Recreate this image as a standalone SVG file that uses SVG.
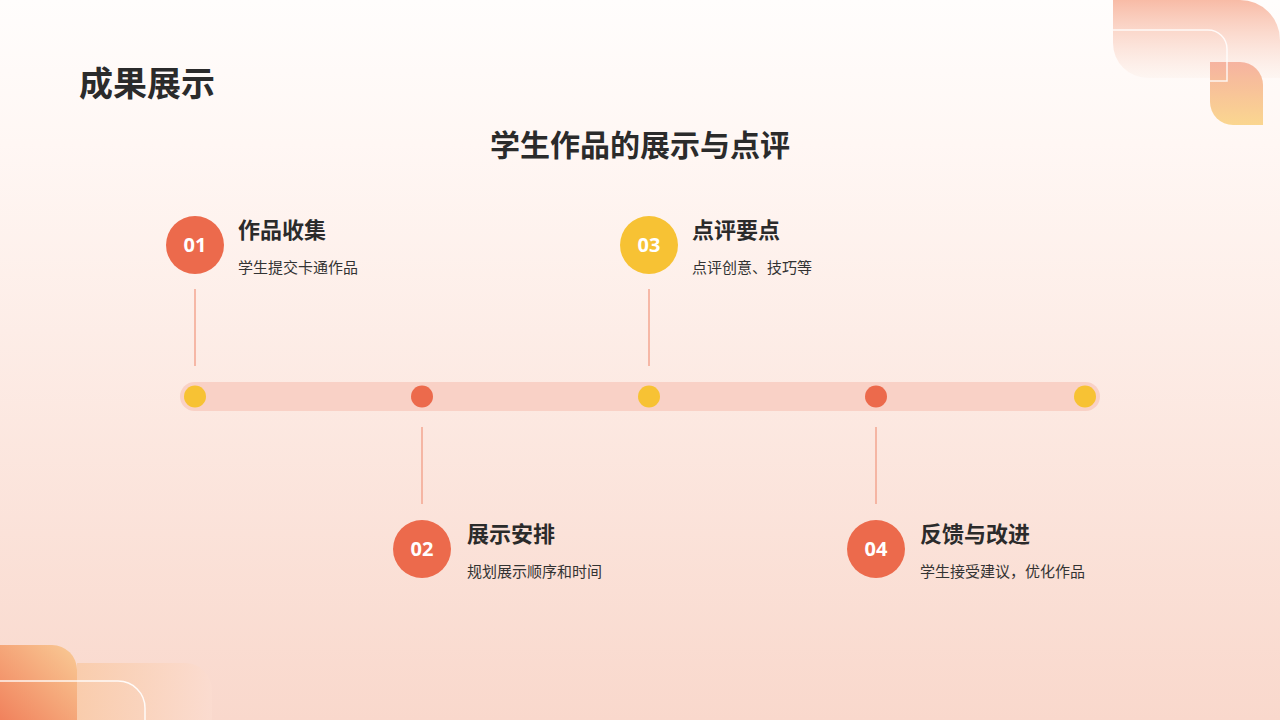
<svg xmlns="http://www.w3.org/2000/svg" width="1280" height="720" viewBox="0 0 1280 720">
<defs>
<linearGradient id="bg" x1="0" y1="0" x2="0" y2="1"><stop offset="0" stop-color="#fffdfc"/><stop offset="0.2" stop-color="#fff7f4"/><stop offset="1" stop-color="#f9d8cc"/></linearGradient>
<linearGradient id="tr1" x1="0" y1="0" x2="0" y2="1"><stop offset="0" stop-color="#f8bba6"/><stop offset="1" stop-color="#fdf3ee" stop-opacity="0.6"/></linearGradient>
<linearGradient id="tr2" x1="0" y1="0" x2="0" y2="1"><stop offset="0" stop-color="#f6b3a0"/><stop offset="1" stop-color="#fad690"/></linearGradient>
<linearGradient id="bl1" x1="1" y1="0" x2="0" y2="1"><stop offset="0" stop-color="#f9c98f"/><stop offset="1" stop-color="#f07850"/></linearGradient>
<linearGradient id="bl2" x1="0" y1="0" x2="1" y2="0"><stop offset="0" stop-color="#f9c9a4"/><stop offset="1" stop-color="#fbdcd0"/></linearGradient>
<style>
.h{font-family:"Noto Sans CJK SC","Noto Sans",sans-serif;font-weight:700;fill:#2b2b2b}
.t{font-family:"Noto Sans CJK SC","Noto Sans",sans-serif;font-size:15px;fill:#333}
.n{font-family:"Noto Sans","Liberation Sans",sans-serif;font-weight:700;font-size:20px;fill:#fff;text-anchor:middle}
.v{stroke:#f3a690;stroke-width:1.5}
</style>
</defs>
<rect width="1280" height="720" fill="url(#bg)"/>
<g id="decor">
<path d="M1113 0H1240A40 40 0 0 1 1280 40V78H1148A35 35 0 0 1 1113 43Z" fill="url(#tr1)"/>
<path d="M1210 62H1240A23 23 0 0 1 1263 85V125H1233A23 23 0 0 1 1210 102Z" fill="url(#tr2)"/>
<path d="M1113 30H1208A19 19 0 0 1 1227 49V81H1210" fill="none" stroke="#fff" stroke-width="1.5" opacity="0.85"/>
<path d="M77 663H185A27 27 0 0 1 212 690V720H77Z" fill="url(#bl2)" opacity="0.8"/>
<path d="M0 645H52A25 25 0 0 1 77 670V720H0Z" fill="url(#bl1)" opacity="0.9"/>
<path d="M0 681H118A27 27 0 0 1 145 708V720" fill="none" stroke="#fff" stroke-width="1.5" opacity="0.9"/>
</g>
<text class="h" x="79" y="96" font-size="34">成果展示</text>
<text class="h" x="640" y="156" font-size="30" text-anchor="middle">学生作品的展示与点评</text>
<g id="connectors">
<rect x="180" y="382" width="920" height="29" rx="14.5" fill="#f9d1c6"/>
<line class="v" x1="195" y1="289" x2="195" y2="366"/>
<line class="v" x1="649" y1="289" x2="649" y2="366"/>
<line class="v" x1="422" y1="427" x2="422" y2="504"/>
<line class="v" x1="876" y1="427" x2="876" y2="504"/>
<circle cx="195" cy="396.5" r="11" fill="#f7c234"/>
<circle cx="422" cy="396.5" r="11" fill="#ec6a4c"/>
<circle cx="649" cy="396.5" r="11" fill="#f7c234"/>
<circle cx="876" cy="396.5" r="11" fill="#ec6a4c"/>
<circle cx="1085" cy="396.5" r="11" fill="#f7c234"/>
</g>
<g id="n1"><circle cx="195" cy="245" r="29" fill="#ec6a4c"/><text class="n" x="195" y="252">01</text><text class="h" x="238" y="238" font-size="22">作品收集</text><text class="t" x="238" y="273">学生提交卡通作品</text></g>
<g id="n2"><circle cx="422" cy="549" r="29" fill="#ec6a4c"/><text class="n" x="422" y="556">02</text><text class="h" x="467" y="542" font-size="22">展示安排</text><text class="t" x="467" y="577">规划展示顺序和时间</text></g>
<g id="n3"><circle cx="649" cy="245" r="29" fill="#f7c234"/><text class="n" x="649" y="252">03</text><text class="h" x="692" y="238" font-size="22">点评要点</text><text class="t" x="692" y="273">点评创意、技巧等</text></g>
<g id="n4"><circle cx="876" cy="549" r="29" fill="#ec6a4c"/><text class="n" x="876" y="556">04</text><text class="h" x="920" y="542" font-size="22">反馈与改进</text><text class="t" x="920" y="577">学生接受建议，优化作品</text></g>
</svg>
